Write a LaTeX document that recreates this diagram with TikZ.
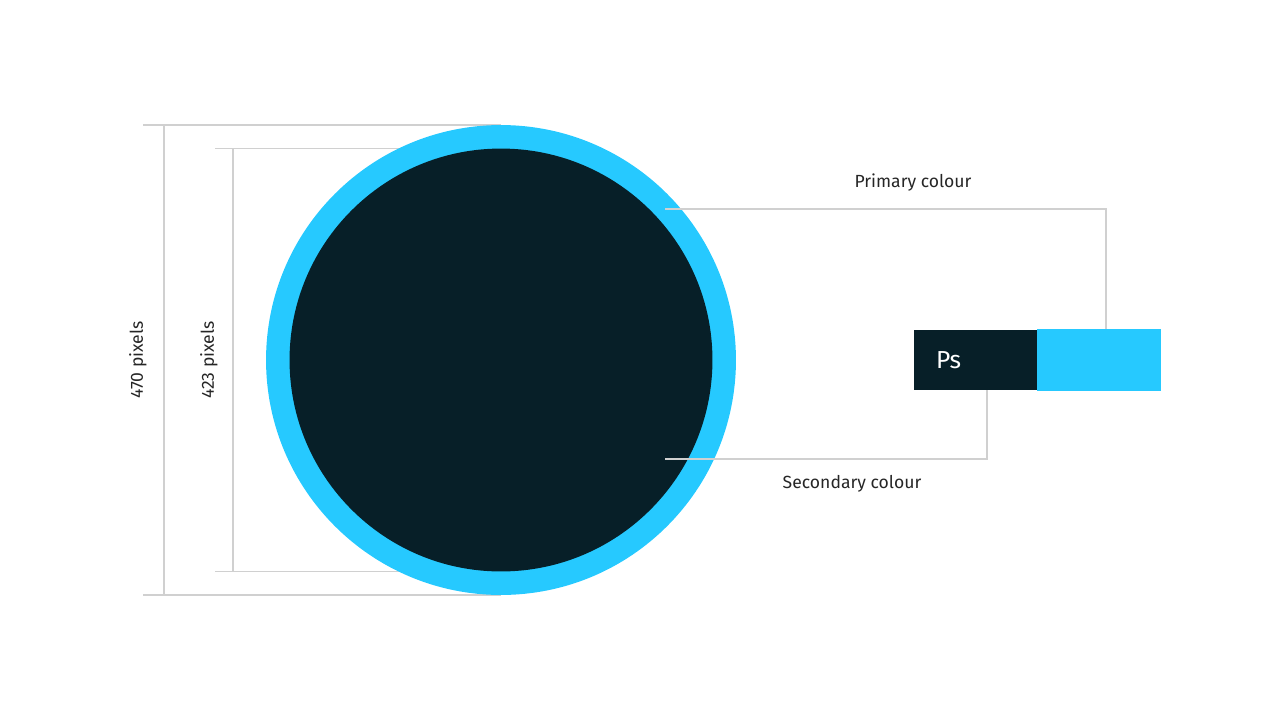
\documentclass[tikz,border=0pt]{standalone}
\usepackage{fontspec}
\setmainfont{Fira Sans}
\usepackage{tikz}
\usetikzlibrary{positioning, calc}
\definecolor{psdark}{RGB}{7,31,40}
\definecolor{pscyan}{RGB}{38,201,255}
\definecolor{guide}{RGB}{208,208,208}

\begin{document}
\begin{tikzpicture}[
    x=0.02cm, y=-0.02cm,
    ring/.style={circle, inner sep=0pt, fill=pscyan, minimum size=9.4cm},
    core/.style={circle, inner sep=0pt, fill=psdark, minimum size=8.46cm},
    swatch/.style={rectangle, inner sep=0pt, minimum width=2.46cm, minimum height=1.2cm},
    guideline/.style={draw=guide, line width=0.6pt},
    caption/.style={font=\fontsize{10}{12}\selectfont, text=black!85},
]

\useasboundingbox (0,0) rectangle (1281,721);

% dimension guides (behind the icon)
\coordinate (outertop) at (143,125);
\coordinate (outerbot) at (143,595);
\coordinate (innertop) at (215,148.5);
\coordinate (innerbot) at (215,571.5);
\draw[guideline] (outertop) -- (501,125);
\draw[guideline] (outerbot) -- (501,595);
\draw[guideline] (164,125) -- (164,595);
\draw[guideline] (innertop) -- (501,148.5);
\draw[guideline] (innerbot) -- (501,571.5);
\draw[guideline] (233,148.5) -- (233,571.5);
\node[caption, rotate=90] (outerlbl) at (138,360) {470 pixels};
\node[caption, rotate=90] (innerlbl) at (209,360) {423 pixels};

% icon
\node[ring] (outer) at (501,360) {};
\node[core] (inner) at (501,360) {};

% colour swatch
\node[swatch, fill=psdark, text=white, align=left, inner xsep=0.44cm, text width=1.58cm,
      font=\fontsize{14}{16}\selectfont] (ps) at (975.5,360) {Ps};
\node[swatch, fill=pscyan, draw=pscyan, line width=0.6pt, right=-0.3pt of ps] (cyan) {};

% callouts
\coordinate (primstart) at (665,209);
\coordinate (secstart) at (665,459);
\draw[guideline] (primstart) -| (cyan.north west -| 1106,0);
\draw[guideline] (secstart) -| (ps.south west -| 987,0);
\node[caption] (primlbl) at (913,183) {Primary colour};
\node[caption] (seclbl) at (852,484) {Secondary colour};

\end{tikzpicture}
\end{document}
